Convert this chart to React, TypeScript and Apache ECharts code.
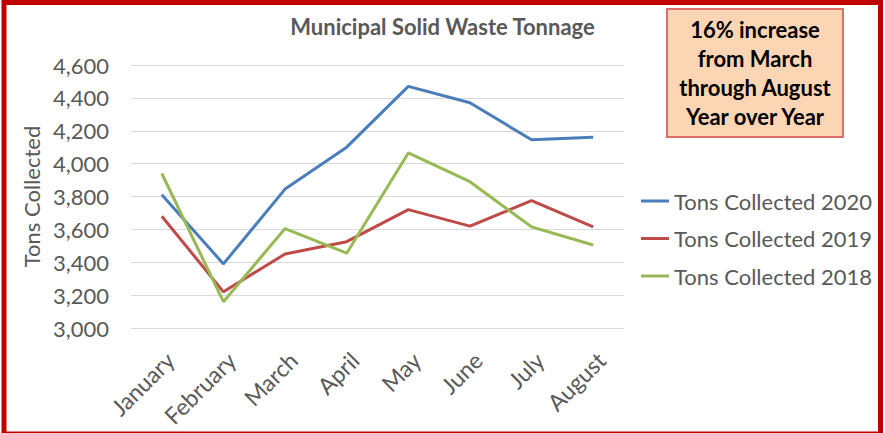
import React, { useEffect, useRef } from "react";
import * as echarts from "echarts";

const months = ["January", "February", "March", "April", "May", "June", "July", "August"];
const tons2020 = [3810, 3390, 3845, 4100, 4470, 4370, 4145, 4160];
const tons2019 = [3680, 3220, 3450, 3525, 3720, 3620, 3775, 3615];
const tons2018 = [3940, 3160, 3605, 3455, 4065, 3890, 3615, 3505];
const seriesNames = ["Tons Collected 2020", "Tons Collected 2019", "Tons Collected 2018"];
const titleText = "Municipal Solid Waste Tonnage";
const noteLines = ["16% increase", "from March", "through August", "Year over Year"];

const FONT = "Lato, 'Open Sans', sans-serif";
const GRAY = "#595959";

export default function App() {
  const ref = useRef<HTMLDivElement>(null);
  useEffect(() => {
    document.body.style.margin = "0";
    const chart = echarts.init(ref.current!, null, { renderer: "svg" });
    const mk = (name: string, data: number[], color: string) => ({
      name,
      type: "line",
      data,
      symbol: "none",
      lineStyle: { color, width: 3 },
      itemStyle: { color },
    });
    chart.setOption({
      animation: false,
      backgroundColor: "#ffffff",
      textStyle: { fontFamily: FONT },
      title: {
        text: titleText,
        left: "center",
        top: 8,
        padding: 5,
        textStyle: { fontFamily: FONT, fontSize: 22, fontWeight: "bold", color: GRAY, lineHeight: 26 },
      },
      grid: { left: 131, right: 261, top: 65, bottom: 105, containLabel: false },
      legend: {
        orient: "vertical",
        left: 641,
        top: 190,
        padding: 0,
        itemWidth: 28,
        itemHeight: 3,
        itemGap: 15.5,
        icon: "rect",
        textStyle: { fontFamily: FONT, fontSize: 22, color: GRAY, lineHeight: 22 },
        data: seriesNames,
      },
      xAxis: {
        type: "category",
        data: months,
        boundaryGap: true,
        axisLine: { show: false },
        axisTick: { show: false },
        axisLabel: {
          rotate: 45,
          interval: 0,
          margin: 20,
          verticalAlign: "top",
          fontFamily: FONT,
          fontSize: 23,
          color: GRAY,
        },
      },
      yAxis: {
        type: "value",
        min: 3000,
        max: 4600,
        interval: 200,
        name: "Tons Collected",
        nameLocation: "middle",
        nameGap: 86,
        nameTextStyle: { fontFamily: FONT, fontSize: 22, color: GRAY },
        axisLine: { show: false },
        axisTick: { show: false },
        axisLabel: {
          margin: 22,
          fontFamily: FONT,
          fontSize: 22,
          color: GRAY,
          formatter: (v: number) => v.toLocaleString("en-US"),
        },
        splitLine: { lineStyle: { color: "#d9d9d9", width: 1.2 } },
      },
      series: [
        mk(seriesNames[0], tons2020, "#4a7ebb"),
        mk(seriesNames[1], tons2019, "#be4b48"),
        mk(seriesNames[2], tons2018, "#98b954"),
      ],
      graphic: [
        {
          type: "rect",
          shape: { x: 4, y: 2.5, width: 876.5, height: 431.5 },
          style: { fill: "none", stroke: "#c00000", lineWidth: 5 },
          silent: true,
          z: 100,
        },
        {
          type: "rect",
          shape: { x: 667, y: 9, width: 176, height: 128 },
          style: { fill: "#fcd5b5", stroke: "#e06c6c", lineWidth: 2 },
          z: 90,
        },
        {
          type: "text",
          x: 755,
          y: 73,
          z: 91,
          style: {
            text: noteLines.join("\n"),
            fill: "#000000",
            font: `bold 22px ${FONT}`,
            align: "center",
            verticalAlign: "middle",
            lineHeight: 29,
          },
        },
      ],
    });
    return () => chart.dispose();
  }, []);
  return <div ref={ref} style={{ position: "absolute", left: 0, top: 0, width: 885, height: 433 }} />;
}
